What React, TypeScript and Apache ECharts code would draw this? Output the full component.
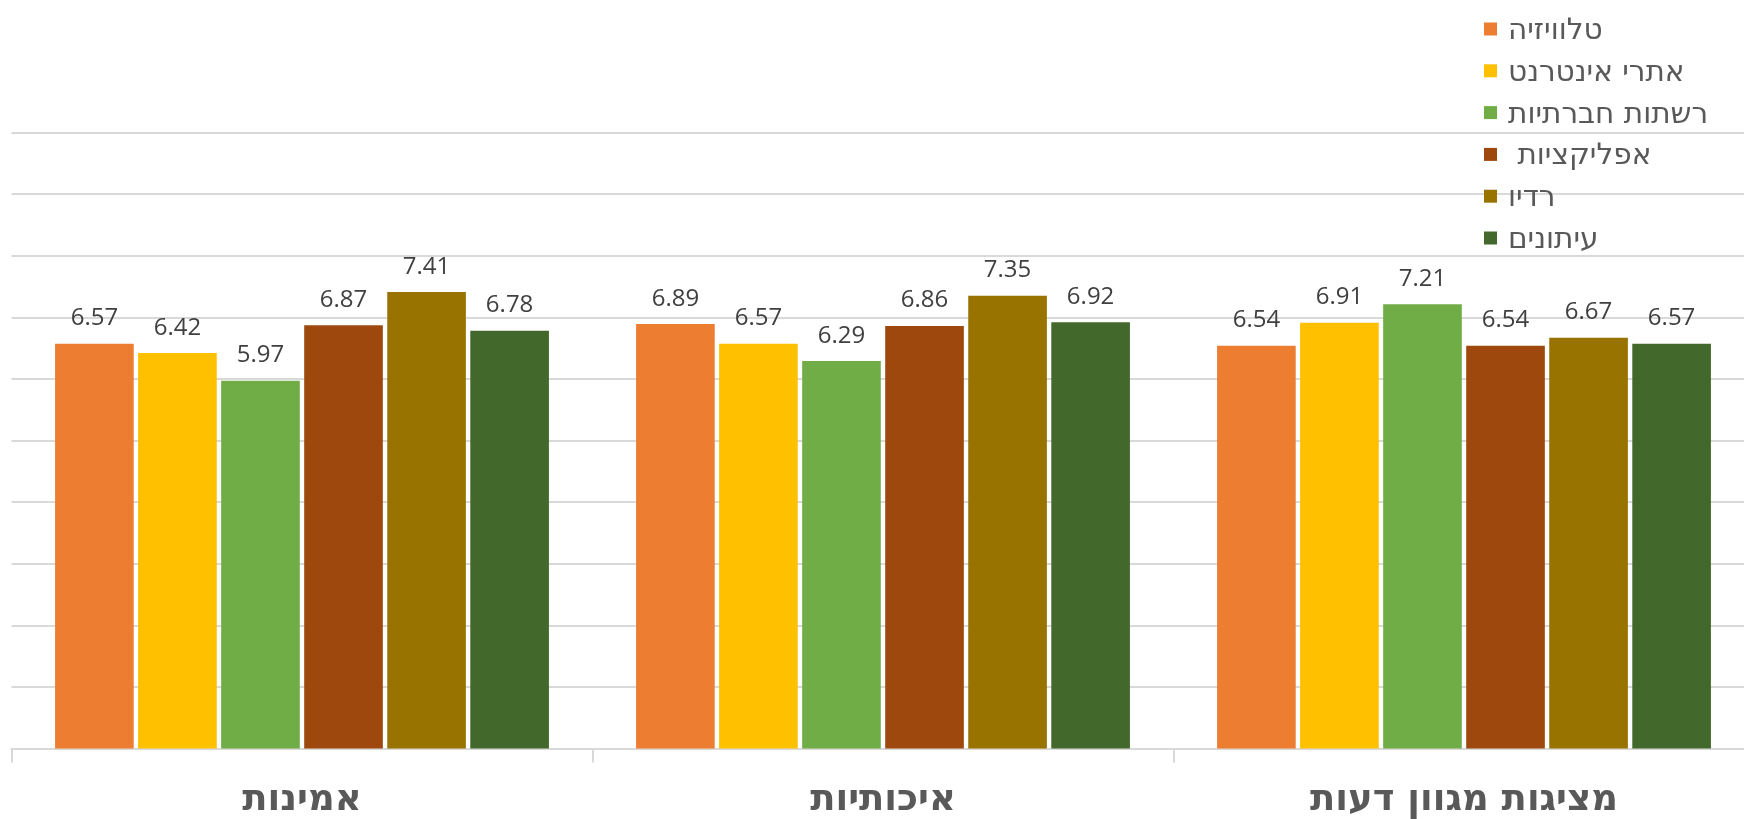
import React, { useEffect, useRef } from "react";
import * as echarts from "echarts";

const categories = ["אמינות", "איכותיות", "מציגות מגוון דעות"];
const seriesNames = ["טלוויזיה", "אתרי אינטרנט", "רשתות חברתיות", " אפליקציות", "רדיו", "עיתונים"];
const tvValues = [6.57, 6.89, 6.54];
const internetValues = [6.42, 6.57, 6.91];
const socialValues = [5.97, 6.29, 7.21];
const appsValues = [6.87, 6.86, 6.54];
const radioValues = [7.41, 7.35, 6.67];
const newspaperValues = [6.78, 6.92, 6.57];
const colors = ["#ED7D31", "#FFC000", "#70AD47", "#9E480E", "#997300", "#43682B"];

const allValues = [tvValues, internetValues, socialValues, appsValues, radioValues, newspaperValues];

export default function App() {
  const ref = useRef<HTMLDivElement>(null);
  useEffect(() => {
    if (!ref.current) return;
    const chart = echarts.init(ref.current, null, { renderer: "svg" });
    const hebFont = "'DejaVu Sans', 'Liberation Sans', sans-serif";
    chart.setOption({
      animation: false,
      color: colors,
      legend: {
        orient: "vertical",
        left: 1479,
        top: 9,
        icon: "rect",
        itemWidth: 13,
        itemHeight: 13,
        itemGap: 11.8,
        textStyle: {
          fontSize: 29.5,
          lineHeight: 30,
          color: "#595959",
          fontFamily: hebFont,
          padding: [0, 0, 0, 6],
        },
        data: seriesNames,
      },
      grid: {
        left: 11.5,
        width: 1743,
        top: 132.5,
        bottom: 70.5,
        containLabel: false,
        outerBoundsMode: "none",
      },
      xAxis: {
        type: "category",
        data: categories,
        axisLine: { lineStyle: { color: "#D9D9D9", width: 2 } },
        axisTick: { show: true, length: 14, lineStyle: { color: "#D9D9D9", width: 2 } },
        axisLabel: {
          fontSize: 37,
          lineHeight: 34,
          fontWeight: "bold",
          color: "#595959",
          fontFamily: hebFont,
          margin: 32,
        },
      },
      yAxis: {
        type: "value",
        min: 0,
        max: 10,
        interval: 1,
        axisLabel: { show: false },
        axisLine: { show: false },
        axisTick: { show: false },
        splitLine: { lineStyle: { color: "#D9D9D9", width: 2 } },
      },
      series: seriesNames.map((name, i) => ({
        name,
        type: "bar",
        data: allValues[i],
        barGap: "5.6%",
        barCategoryGap: "15%",
        itemStyle: { color: colors[i] },
        label: {
          show: true,
          position: "top",
          distance: 16,
          fontSize: 24,
          color: "#404040",
          fontFamily: "'Open Sans', sans-serif",
          formatter: (p: any) => p.value.toFixed(2),
        },
      })),
    });
    return () => chart.dispose();
  }, []);
  return <div ref={ref} style={{ position: "fixed", left: 0, top: 0, width: 1744, height: 819 }} />;
}
